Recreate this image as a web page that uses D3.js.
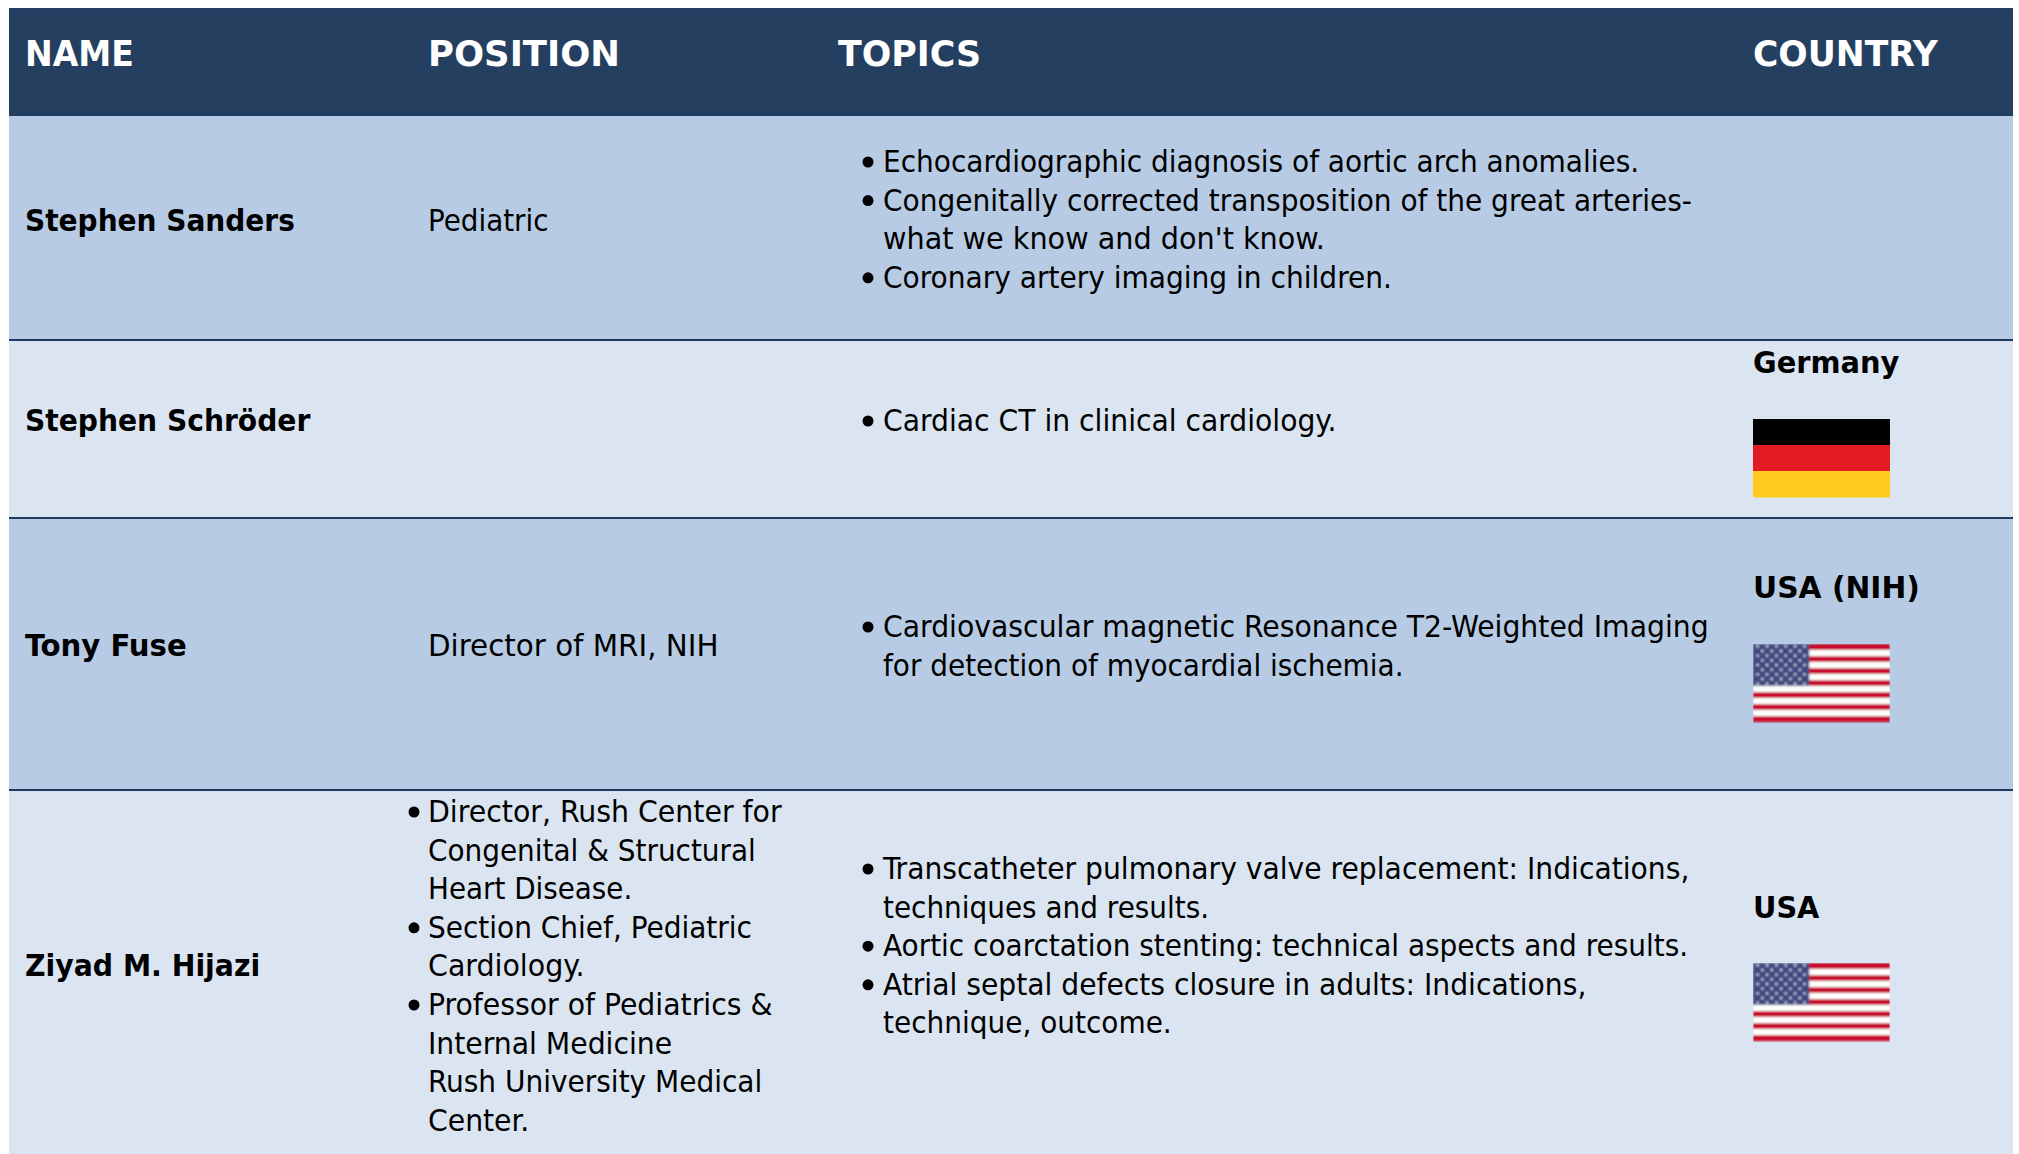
<!DOCTYPE html>
<html><head><meta charset="utf-8">
<script src="https://cdn.jsdelivr.net/npm/d3@7"></script>
<style>html,body{margin:0;padding:0;background:#fff;overflow:hidden}svg{display:block}</style>
</head><body><svg id="c" width="2019" height="1154"></svg>
<script>
const headers = ["NAME","POSITION","TOPICS","COUNTRY"];
const names = ["Stephen Sanders","Stephen Schröder","Tony Fuse","Ziyad M. Hijazi"];
const positions = [
  [["Pediatric"]],
  [],
  [["Director of MRI, NIH"]],
  [["Director, Rush Center for","Congenital & Structural","Heart Disease."],["Section Chief, Pediatric","Cardiology."],["Professor of Pediatrics &","Internal Medicine","Rush University Medical","Center."]]
];
const topics = [
  [["Echocardiographic diagnosis of aortic arch anomalies."],["Congenitally corrected transposition of the great arteries-","what we know and don't know."],["Coronary artery imaging in children."]],
  [["Cardiac CT in clinical cardiology."]],
  [["Cardiovascular magnetic Resonance T2-Weighted Imaging","for detection of myocardial ischemia."]],
  [["Transcatheter pulmonary valve replacement: Indications,","techniques and results."],["Aortic coarctation stenting: technical aspects and results."],["Atrial septal defects closure in adults: Indications,","technique, outcome."]]
];
const countries = ["","Germany","USA (NIH)","USA"];
const flags = ["","de","us","us"];
const germanStripes = ["#000000","#e31b23","#ffcb1f"];
const usStripes = d3.range(13);

// Layout only: right edges of text lines as seen in the 1568-wide view, used to fit the substitute font.
const fitRight = {
  "NAME":104,"POSITION":481.5,"TOPICS":762,"COUNTRY":1505,
  "Stephen Sanders":229,"Stephen Schröder":241,"Tony Fuse":145,"Ziyad M. Hijazi":202,
  "Germany":1475,"USA (NIH)":1491,"USA":1413,
  "Pediatric":426,"Director of MRI, NIH":558,"Director, Rush Center for":607,"Congenital & Structural":587,
  "Heart Disease.":491,"Section Chief, Pediatric":584,"Cardiology.":454,"Professor of Pediatrics &":600,
  "Internal Medicine":522,"Rush University Medical":592,"Center.":411,
  "Echocardiographic diagnosis of aortic arch anomalies.":1273,
  "Congenitally corrected transposition of the great arteries-":1314,
  "what we know and don't know.":1029,"Coronary artery imaging in children.":1081,
  "Cardiac CT in clinical cardiology.":1038,
  "Cardiovascular magnetic Resonance T2-Weighted Imaging":1327,"for detection of myocardial ischemia.":1090,
  "Transcatheter pulmonary valve replacement: Indications,":1312,"techniques and results.":939,
  "Aortic coarctation stenting: technical aspects and results.":1311,
  "Atrial septal defects closure in adults: Indications,":1232,"technique, outcome.":910
};
const viewScale = 2019/1568;
const layout = {
  rowEdges:[116,340,518,790,1154], headTop:8, left:9, right:2013,
  colX:[25,428,838,1753], topicX:883, bulletOffset:[-14,-15],
  lineH:38.6, headBase:66, nameBase:[231,431,656,976],
  posFirstBase:[231,0,656,822], topicFirstBase:[172,431,637,879],
  countryBase:[0,373,598,918], flagTop:[0,419,644,963], flagW:137, flagH:78
};
const svg = d3.select("#c");
const font = "'DejaVu Sans Condensed','DejaVu Sans',sans-serif";
const rowColors = ["#b7cce4","#dbe5f1"];
const rowIdx = d3.range(names.length);
const defs = svg.append("defs");
defs.append("filter").attr("id","soft").attr("x",0).attr("y",0).attr("width",1).attr("height",1)
  .append("feGaussianBlur").attr("stdDeviation",0.8);

function fit(sel){
  sel.each(function(){
    const t=this.textContent, x=+this.getAttribute("x");
    if(fitRight[t]) d3.select(this).attr("textLength",fitRight[t]*viewScale-x).attr("lengthAdjust","spacingAndGlyphs");
  });
  return sel;
}

svg.append("rect").attr("x",layout.left).attr("y",layout.headTop).attr("width",layout.right-layout.left).attr("height",layout.rowEdges[0]-layout.headTop).attr("fill","#243f60");
svg.append("g").selectAll("rect").data(rowIdx).join("rect")
  .attr("x",layout.left).attr("width",layout.right-layout.left)
  .attr("y",i=>layout.rowEdges[i]).attr("height",i=>layout.rowEdges[i+1]-layout.rowEdges[i])
  .attr("fill",i=>rowColors[i%2]);
svg.append("g").selectAll("line").data(rowIdx.slice(0,3)).join("line")
  .attr("x1",layout.left).attr("x2",layout.right)
  .attr("y1",i=>layout.rowEdges[i+1]).attr("y2",i=>layout.rowEdges[i+1])
  .attr("stroke","#1f3864").attr("stroke-width",2);
svg.append("g").selectAll("line").data([layout.headTop+.5,layout.rowEdges[0]-.5]).join("line")
  .attr("x1",layout.left).attr("x2",layout.right).attr("y1",d=>d).attr("y2",d=>d)
  .attr("stroke","#1f3864").attr("stroke-width",1);

fit(svg.append("g").selectAll("text").data(headers).join("text")
  .attr("x",(d,i)=>layout.colX[i]).attr("y",layout.headBase)
  .attr("fill","#fff").attr("font-family",font).attr("font-weight",700)
  .attr("font-size",35).text(d=>d));

fit(svg.append("g").selectAll("text").data(names).join("text")
  .attr("x",layout.colX[0]).attr("y",(d,i)=>layout.nameBase[i])
  .attr("font-family",font).attr("font-weight",700).attr("font-size",31).text(d=>d));

fit(svg.append("g").selectAll("text").data(countries).join("text")
  .attr("x",layout.colX[3]).attr("y",(d,i)=>layout.countryBase[i])
  .attr("font-family",font).attr("font-weight",700).attr("font-size",31).text(d=>d));

function block(items, x, base, bulletDx){
  let line=0;
  items.forEach(lines=>{
    lines.forEach((t,j)=>{
      const y=base+line*layout.lineH;
      if(j===0 && bulletDx) svg.append("circle").attr("cx",x+bulletDx).attr("cy",y-10).attr("r",5.5).attr("fill","#000");
      fit(svg.append("text").attr("x",x).attr("y",y).attr("font-family",font).attr("font-size",31).text(t));
      line++;
    });
  });
}
positions.forEach((p,i)=>block(p,layout.colX[1],layout.posFirstBase[i],i===3?layout.bulletOffset[0]:0));
topics.forEach((p,i)=>block(p,layout.topicX,layout.topicFirstBase[i],layout.bulletOffset[1]));

flags.forEach((f,i)=>{
  if(!f) return;
  const x0=layout.colX[3], y0=layout.flagTop[i], W=layout.flagW, H=layout.flagH;
  const g=svg.append("g").attr("transform",`translate(${x0},${y0})`);
  if(f==="de"){
    const y=d3.scaleBand().domain(d3.range(3)).range([0,H]);
    g.selectAll("rect").data(germanStripes).join("rect")
      .attr("width",W).attr("y",(d,k)=>y(k)).attr("height",y.bandwidth()+.5).attr("fill",d=>d);
  } else {
    g.attr("filter","url(#soft)");
    const y=d3.scaleBand().domain(usStripes).range([0,H]);
    g.selectAll("rect").data(usStripes).join("rect")
      .attr("width",W).attr("y",k=>y(k)).attr("height",y.bandwidth()+.2)
      .attr("fill",k=>k%2?"#ffffff":"#c8102e");
    const cw=W*0.41, ch=y(7);
    g.append("rect").attr("width",cw).attr("height",ch).attr("fill","#3f4a80");
    const pts=[];
    d3.range(9).forEach(r=>d3.range(r%2?5:6).forEach(c=>pts.push([(c+(r%2?1:.5))*cw/6,(r+.5)*ch/9])));
    g.selectAll("circle").data(pts).join("circle")
      .attr("cx",d=>d[0]).attr("cy",d=>d[1]).attr("r",1.2).attr("fill","#e4e6f0");
  }
});
</script></body></html>
